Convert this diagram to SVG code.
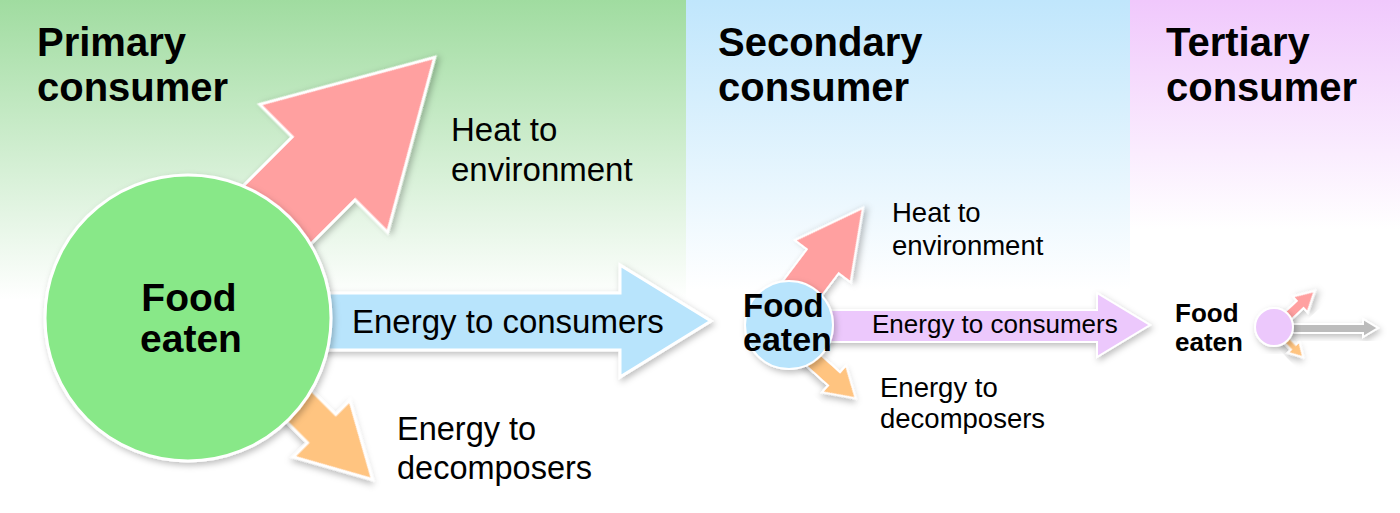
<svg xmlns="http://www.w3.org/2000/svg" width="1400" height="513" viewBox="0 0 1400 513">
<defs>
<linearGradient id="gGreen" x1="0" y1="0" x2="0" y2="1"><stop offset="0" stop-color="#a0dca0"/><stop offset="1" stop-color="#ffffff"/></linearGradient>
<linearGradient id="gBlue" x1="0" y1="0" x2="0" y2="1"><stop offset="0" stop-color="#c0e6fc"/><stop offset="1" stop-color="#ffffff"/></linearGradient>
<linearGradient id="gPurple" x1="0" y1="0" x2="0" y2="1"><stop offset="0" stop-color="#f0c8fc"/><stop offset="1" stop-color="#ffffff"/></linearGradient>
<filter id="sh" x="-20%" y="-20%" width="140%" height="140%"><feDropShadow dx="2" dy="3" stdDeviation="3" flood-color="#000" flood-opacity="0.25"/></filter>
</defs>
<style>
.t{font-family:"Liberation Sans",Arial,sans-serif;fill:#000}
.h{font-size:40px;font-weight:bold}
.b{font-weight:bold}
.arr{stroke:#fff;stroke-width:3;stroke-linejoin:miter;filter:url(#sh)}
.sarr{stroke:#fff;stroke-width:2;filter:url(#sh)}
.pink{fill:#ffa0a0}.blue{fill:#b8e4fc}.orange{fill:#ffc480}.purple{fill:#ecc8fc}.gray{fill:#bcbcbc}
.node{stroke:#fff;filter:url(#sh)}
</style>
<rect width="1400" height="513" fill="#fff"/>
<g id="panels">
<rect x="0" y="0" width="686" height="300" fill="url(#gGreen)"/>
<rect x="686" y="0" width="444" height="290" fill="url(#gBlue)"/>
<rect x="1130" y="0" width="270" height="230" fill="url(#gPurple)"/>
</g>
<g id="titles">
<text class="t h" x="37" y="56">Primary</text>
<text class="t h" x="37" y="101">consumer</text>
<text class="t h" x="718" y="56">Secondary</text>
<text class="t h" x="718" y="101">consumer</text>
<text class="t h" x="1166" y="56">Tertiary</text>
<text class="t h" x="1166" y="101">consumer</text>
</g>
<g id="connectors">
<polygon class="arr pink" transform="translate(190,302) rotate(-45)" points="0,-44.5 189,-44.5 189,-90.5 346,0 189,90.5 189,44.5 0,44.5"/>
<polygon class="arr blue" points="250,293 620,293 620,265 711,321 620,377 620,350 250,350"/>
<polygon class="arr orange" transform="translate(200,307) rotate(45)" points="0,-20 172,-20 172,-40 244,0 172,40 172,20 0,20"/>
<polygon class="sarr pink" transform="translate(780,318) rotate(-53)" points="0,-20 71,-20 71,-35 138,0 71,35 71,20 0,20"/>
<polygon class="sarr purple" points="800,310 1097,310 1097,293 1150,325 1097,357 1097,342 800,342"/>
<polygon class="sarr orange" transform="translate(782,332) rotate(42)" points="0,-9 70,-9 70,-18 99,0 70,18 70,9 0,9"/>
<polygon class="sarr pink" transform="translate(1276,327) rotate(-43)" points="0,-5 33,-5 33,-11 53,0 33,11 33,5 0,5"/>
<polygon class="sarr orange" transform="translate(1274,327) rotate(46)" points="0,-3.5 28,-3.5 28,-8 42,0 28,8 28,3.5 0,3.5"/>
<polygon class="sarr gray" points="1280,324 1363,324 1363,319 1378,328 1363,337 1363,333 1280,333"/>
</g>
<g id="labels">
<text class="t" font-size="33" x="451" y="141">Heat to</text>
<text class="t" font-size="33" x="451" y="181">environment</text>
<text class="t" font-size="33" x="352" y="333">Energy to consumers</text>
<text class="t" font-size="32.5" x="397" y="440">Energy to</text>
<text class="t" font-size="32.5" x="397" y="479">decomposers</text>
<text class="t" font-size="27.5" x="892" y="222">Heat to</text>
<text class="t" font-size="27.5" x="892" y="255">environment</text>
<text class="t" font-size="26" x="872" y="333">Energy to consumers</text>
<text class="t" font-size="27.5" x="880" y="397">Energy to</text>
<text class="t" font-size="27.5" x="880" y="428">decomposers</text>
</g>
<g id="node-primary">
<circle class="node" cx="188" cy="318" r="143" fill="#88e888" stroke-width="3"/>
<text class="t b" font-size="39" x="189" y="311" text-anchor="middle">Food</text>
<text class="t b" font-size="39" x="191" y="352" text-anchor="middle">eaten</text>
</g>
<g id="node-secondary">
<circle class="node" cx="789" cy="325" r="44" fill="#b8e4fc" stroke-width="2"/>
<text class="t b" font-size="33" x="743" y="317">Food</text>
<text class="t b" font-size="34" x="743" y="351">eaten</text>
</g>
<g id="node-tertiary">
<circle class="node" cx="1274" cy="327" r="19" fill="#ecc8fc" stroke-width="2"/>
<text class="t b" font-size="26" x="1175" y="322">Food</text>
<text class="t b" font-size="26" x="1175" y="351">eaten</text>
</g>
</svg>
